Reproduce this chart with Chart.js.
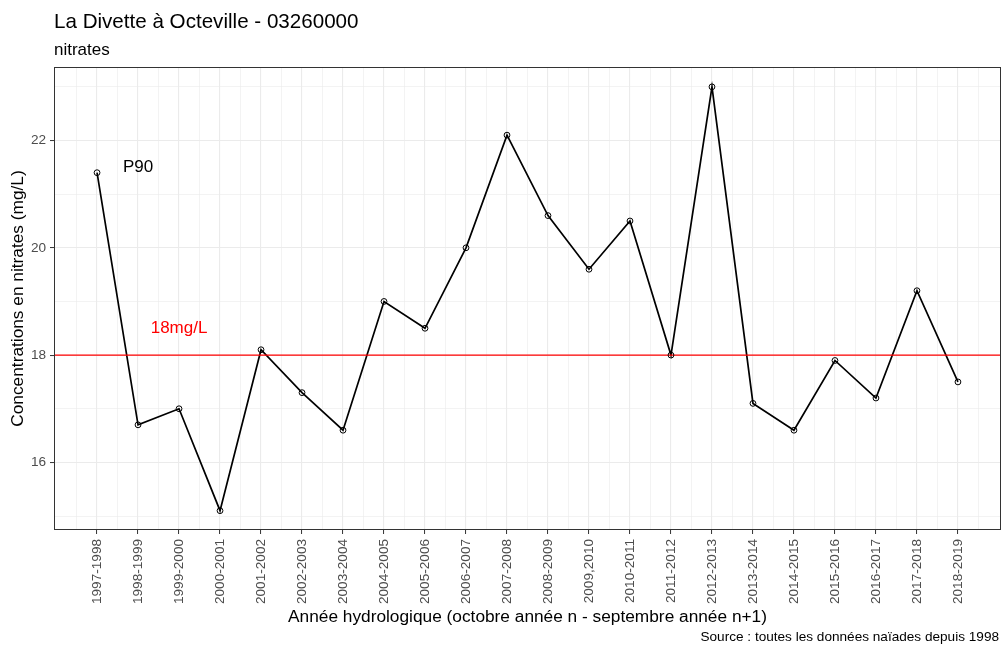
<!DOCTYPE html>
<html>
<head>
<meta charset="utf-8">
<title>La Divette à Octeville - nitrates</title>
<script src="https://cdn.jsdelivr.net/npm/chart.js@4"></script>
<style>
    body { margin: 0; background: #ffffff; }
    #chart { display: block; }
</style>
</head>
<body>
<canvas id="chart" width="1002" height="647"></canvas>
<script>

/* =========================
   DATA
========================= */

const years = [
    "1997-1998", "1998-1999", "1999-2000", "2000-2001", "2001-2002",
    "2002-2003", "2003-2004", "2004-2005", "2005-2006", "2006-2007",
    "2007-2008", "2008-2009", "2009,2010", "2010-2011", "2011-2012",
    "2012-2013", "2013-2014", "2014-2015", "2015-2016", "2016-2017",
    "2017-2018", "2018-2019"
];

const nitrates = [
    21.4, 16.7, 17.0, 15.1, 18.1,
    17.3, 16.6, 19.0, 18.5, 20.0,
    22.1, 20.6, 19.6, 20.5, 18.0,
    23.0, 17.1, 16.6, 17.9, 17.2,
    19.2, 17.5
];

const threshold = 18;

const yTicks = [16, 18, 20, 22];

/* =========================
   TEXTS
========================= */

const FONT = "'Liberation Sans', Arial, sans-serif";

const titleText = "La Divette à Octeville - 03260000";
const subtitleText = "nitrates";
const captionText = "Source : toutes les données naïades depuis 1998";

/* =========================
   SCALE RANGES
========================= */

const xMin = -0.05;
const xMax = years.length + 1.05;
const yMin = 14.74;
const yMax = 23.37;

const points =
    years.map((year, i) => ({ x: i + 1, y: nitrates[i] }));

const thresholdLine = [
    { x: xMin, y: threshold },
    { x: xMax, y: threshold }
];

/* =========================
   PLUGIN : TITLES, LABELS, BORDER
========================= */

const decorations = {

    id: "decorations",

    afterDatasetsDraw(chart) {

        const { ctx, chartArea, scales } = chart;

        ctx.save();

        // text annotations inside the panel
        ctx.textAlign = "center";
        ctx.textBaseline = "middle";
        ctx.font = "17px " + FONT;

        ctx.fillStyle = "#000000";
        ctx.fillText("P90",
            scales.x.getPixelForValue(2),
            scales.y.getPixelForValue(21.5));

        ctx.fillStyle = "#ff0000";
        ctx.fillText(threshold + "mg/L",
            scales.x.getPixelForValue(3),
            scales.y.getPixelForValue(18.5));

        // panel border
        ctx.strokeStyle = "#333333";
        ctx.lineWidth = 1;
        ctx.strokeRect(
            chartArea.left + 0.5,
            chartArea.top + 0.5,
            chartArea.right - chartArea.left - 1,
            chartArea.bottom - chartArea.top - 1
        );

        ctx.restore();

    },

    afterDraw(chart) {

        const { ctx, chartArea } = chart;

        ctx.save();

        ctx.fillStyle = "#000000";
        ctx.textBaseline = "alphabetic";

        ctx.textAlign = "left";
        ctx.font = "20.6px " + FONT;
        ctx.fillText(titleText, chartArea.left, 28);

        ctx.font = "17px " + FONT;
        ctx.fillText(subtitleText, chartArea.left, 55);

        ctx.textAlign = "right";
        ctx.font = "13.6px " + FONT;
        ctx.fillText(captionText, 999, 641);

        ctx.restore();

    }

};

/* =========================
   CHART
========================= */

const isMajorX = value => Number.isInteger(value);

const isMajorY = value => yTicks.includes(value);

new Chart(document.getElementById("chart"), {

    type: "scatter",

    data: {

        datasets: [

            {
                label: "points",
                data: points,
                showLine: false,
                pointRadius: 2.9,
                pointBorderWidth: 1,
                pointBorderColor: "#000000",
                pointBackgroundColor: "rgba(0,0,0,0)"
            },

            {
                label: "seuil",
                data: thresholdLine,
                showLine: true,
                borderColor: "#ff0000",
                borderWidth: 1.4,
                pointRadius: 0
            },

            {
                label: "nitrates",
                data: points,
                showLine: true,
                borderColor: "#000000",
                borderWidth: 1.7,
                tension: 0,
                pointRadius: 0
            }

        ]

    },

    options: {

        responsive: false,
        animation: false,

        layout: {
            autoPadding: false,
            padding: { top: 67, right: 1, bottom: 19, left: 0 }
        },

        plugins: {
            legend: { display: false },
            tooltip: { enabled: false },
            title: { display: false }
        },

        scales: {

            x: {
                type: "linear",
                min: xMin,
                max: xMax,
                afterBuildTicks(scale) {
                    const ticks = [];
                    for (let v = 0.5; v <= years.length + 0.5; v += 0.5) {
                        ticks.push({ value: v });
                    }
                    scale.ticks = ticks;
                },
                afterFit(scale) {
                    scale.height = 98;
                    scale.paddingLeft = 0;
                    scale.paddingRight = 0;
                },
                border: { display: false },
                grid: {
                    color: "#ebebeb",
                    lineWidth: ctx => isMajorX(ctx.tick.value) ? 1.1 : 0.6,
                    drawTicks: true,
                    tickLength: 4,
                    tickWidth: 1,
                    tickColor: ctx =>
                        isMajorX(ctx.tick.value) ? "#333333" : "rgba(0,0,0,0)"
                },
                ticks: {
                    autoSkip: false,
                    minRotation: 90,
                    maxRotation: 90,
                    padding: 5,
                    color: "#4d4d4d",
                    font: { family: FONT, size: 13.6 },
                    callback: value =>
                        isMajorX(value) ? years[value - 1] : ""
                },
                title: {
                    display: true,
                    text: "Année hydrologique (octobre année n - septembre année n+1)",
                    color: "#000000",
                    font: { family: FONT, size: 17.3 },
                    padding: 0
                }
            },

            y: {
                type: "linear",
                min: yMin,
                max: yMax,
                afterBuildTicks(scale) {
                    const ticks = [];
                    for (let v = 15; v <= 23; v += 1) {
                        ticks.push({ value: v });
                    }
                    scale.ticks = ticks;
                },
                afterFit(scale) {
                    scale.width = 54;
                    scale.paddingTop = 0;
                    scale.paddingBottom = 0;
                },
                border: { display: false },
                grid: {
                    color: "#ebebeb",
                    lineWidth: ctx => isMajorY(ctx.tick.value) ? 1.1 : 0.6,
                    drawTicks: true,
                    tickLength: 4,
                    tickWidth: 1,
                    tickColor: ctx =>
                        isMajorY(ctx.tick.value) ? "#333333" : "rgba(0,0,0,0)"
                },
                ticks: {
                    padding: 4,
                    color: "#4d4d4d",
                    font: { family: FONT, size: 13.6 },
                    callback: value =>
                        isMajorY(value) ? String(value) : ""
                },
                title: {
                    display: true,
                    text: "Concentrations en nitrates (mg/L)",
                    color: "#000000",
                    font: { family: FONT, size: 17.3 },
                    padding: { top: 8, bottom: 0 }
                }
            }

        }

    },

    plugins: [decorations]

});

</script>
</body>
</html>
